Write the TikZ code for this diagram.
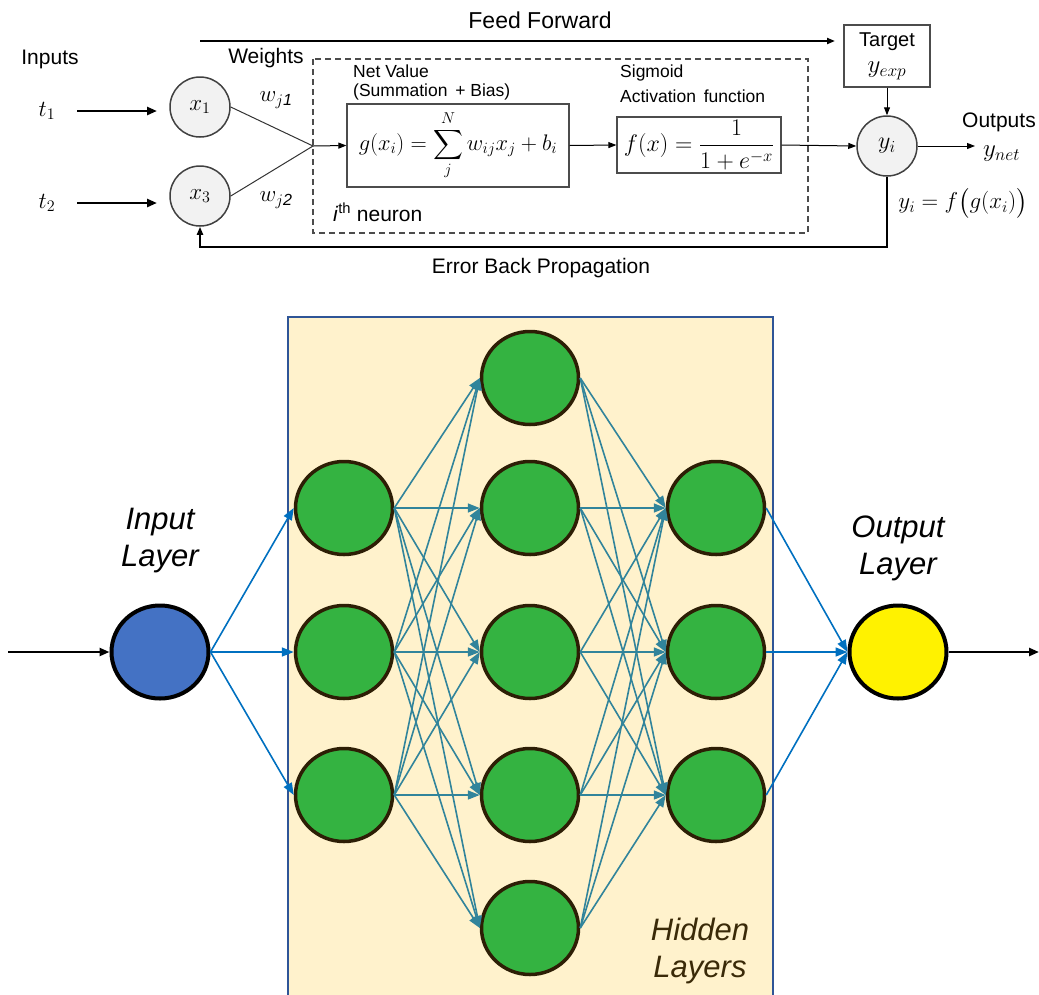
\RequirePackage{fix-cm}
\documentclass[tikz,border=0pt]{standalone}
\usepackage{amsmath}
\usepackage{fontspec}
\setmainfont{Liberation Sans}
\usetikzlibrary{arrows.meta, shapes.geometric, calc}

\definecolor{hidfill}{HTML}{FFF2CC}
\definecolor{hidline}{HTML}{2F5597}
\definecolor{nodegreen}{RGB}{52,179,65}
\definecolor{nodebrown}{RGB}{45,30,5}
\definecolor{inblue}{HTML}{4472C4}
\definecolor{linkblue}{HTML}{0070C0}
\definecolor{linkteal}{HTML}{31849B}
\definecolor{hidtext}{RGB}{58,42,8}
\definecolor{cellgray}{HTML}{F2F2F2}

\begin{document}
\begin{tikzpicture}[x=1pt, y=-1pt,
    neuron/.style={circle, draw=black!75, fill=cellgray, line width=1.5pt, minimum size=60pt, inner sep=0pt, font=\fontsize{23}{26}\selectfont},
    mathbox/.style={draw=black!70, line width=1.2pt, inner sep=0pt, font=\fontsize{22.5}{26}\selectfont},
    lbl/.style={inner sep=0pt, font=\fontsize{21}{25}\selectfont},
    small lbl/.style={inner sep=0pt, anchor=west, font=\fontsize{17.5}{21}\selectfont},
    big lbl/.style={inner sep=0pt, align=center, font=\fontsize{31}{37}\selectfont\itshape},
    thin arrow/.style={-{Triangle[length=8pt,width=6pt]}, line width=1pt},
    bold arrow/.style={-{Triangle[length=10pt,width=8pt]}, line width=2.6pt},
    unit/.style={ellipse, draw=nodebrown, fill=nodegreen, line width=3.5pt, minimum width=97pt, minimum height=93pt},
    blue link/.style={-{Triangle[length=12pt,width=9pt]}, draw=linkblue, fill=linkblue, line width=1.6pt},
    teal link/.style={-{Triangle[length=12pt,width=9pt]}, draw=linkteal, fill=linkteal, line width=1.6pt}]
\useasboundingbox (0,0) rectangle (1039,994);

% single neuron
\node[lbl, font=\fontsize{23}{27}\selectfont] (ff) at (540,20) {Feed Forward};
\node[lbl] (inputs) at (50,59) {Inputs};
\node[lbl] (weights) at (266,58) {Weights};

\node[neuron] (x1) at (200,107) {$x_1$};
\node[neuron] (x3) at (200,196) {$x_3$};
\node[lbl, font=\fontsize{23}{26}\selectfont] (t1) at (47,111) {$t_1$};
\node[lbl, font=\fontsize{23}{26}\selectfont] (t2) at (47,203) {$t_2$};
\draw[bold arrow, shorten <=22pt] (t1.east) -- (t1.east -| 157,0);
\draw[bold arrow, shorten <=22pt] (t2.east) -- (t2.east -| 157,0);

\node[lbl, font=\fontsize{23}{27}\selectfont] (w1) at (276,100) {$w_{j\mathit{1}}$};
\node[lbl, font=\fontsize{23}{27}\selectfont] (w2) at (276,200) {$w_{j\mathit{2}}$};

\draw[black!70, dash pattern=on 6pt off 4pt, line width=1.5pt] (313,59) rectangle (808,233);
\coordinate (sum) at (313,146);
\node[mathbox, minimum width=222pt, minimum height=83pt] (gbox) at (458,145.5)
    {$\displaystyle g(x_i)=\sum_{j}^{N} w_{ij}x_j+b_i$};
\node[mathbox, minimum width=164pt, minimum height=56pt, font=\fontsize{24}{28}\selectfont] (fbox) at (699,145)
    {$\displaystyle f(x)=\frac{1}{1+e^{-x}}$};
\node[neuron, font=\fontsize{24}{28}\selectfont] (yi) at (887,146) {$y_i$};
\node[mathbox, minimum width=86pt, minimum height=62pt, align=center, font=\fontsize{20}{28}\selectfont] (target) at (887,56)
    {Target\\[-2pt]{\fontsize{25}{28}\selectfont$y_{exp}$}};

\node[small lbl] (netval) at (353,71) {Net Value};
\node[small lbl] (summ) at (353,92) {(Summation \,+ Bias)};
\node[small lbl] (sigm) at (620,73) {Sigmoid};
\node[small lbl] (actf) at (620,96) {Activation \,function};
\node[lbl, anchor=west] (ith) at (333,212) {\textit{i}\textsuperscript{th} neuron};

\draw[black!80, line width=1pt] (x1.east) -- (sum);
\draw[black!80, line width=1pt] (x3.east) -- (sum);
\draw[thin arrow] (sum) -- (gbox.west);
\draw[thin arrow] (gbox.east) -- (fbox.west);
\draw[thin arrow] (fbox.east) -- (yi.west);
\draw[thin arrow] (target.south) -- (yi.north);
\coordinate (ffstart) at (200,41);
\coordinate (ffend) at (835,41);
\draw[thin arrow, line width=2pt] (ffstart) -- (ffend);

\node[lbl, anchor=west] (outs) at (962,122) {Outputs};
\node[lbl, anchor=west, font=\fontsize{25}{28}\selectfont] (ynet) at (983,154) {$y_{net}$};
\draw[thin arrow] (yi.east) -- (yi.east -| 975,0);
\node[lbl, font=\fontsize{23}{27}\selectfont] (yfun) at (963,203) {$y_i=f\bigl(g(x_i)\bigr)$};

\coordinate (err) at (540,247);
\draw[thin arrow, line width=2pt] (yi.south) |- (err) -| (x3.south);
\node[lbl] (errlbl) at (541,268) {Error Back Propagation};

% network
\draw[draw=hidline, fill=hidfill, line width=1.5pt] (288,317) rectangle (773,1000);

\node[ellipse, draw=black, fill=inblue, line width=4pt, minimum width=97pt, minimum height=93pt] (in) at (160,652) {};
\node[ellipse, draw=black, fill=yellow, line width=4pt, minimum width=97pt, minimum height=93pt] (out) at (898,652) {};
\foreach \y [count=\i] in {508,652,795}
    \node[unit] (a\i) at (344,\y) {};
\foreach \y [count=\i] in {378,508,652,795,928}
    \node[unit] (b\i) at (530,\y) {};
\foreach \y [count=\i] in {508,652,795}
    \node[unit] (c\i) at (716,\y) {};

\foreach \i in {1,2,3}
    \draw[blue link] (in.east) -- (a\i.west);
\foreach \i in {1,2,3}
    \foreach \j in {1,...,5}
        \draw[teal link] (a\i.east) -- (b\j.west);
\foreach \j in {1,...,5}
    \foreach \k in {1,2,3}
        \draw[teal link] (b\j.east) -- (c\k.west);
\foreach \k in {1,2,3}
    \draw[blue link] (c\k.east) -- (out.west);

\coordinate (src) at (8,652);
\coordinate (sink) at (1039,652);
\draw[bold arrow, line width=2.4pt] (src) -- (in.west);
\draw[bold arrow, line width=2.4pt] (out.east) -- (sink);

\node[big lbl] (inlbl) at (160,541) {Input\\Layer};
\node[big lbl] (outlbl) at (898,548) {Output\\Layer};
\node[big lbl, text=hidtext] (hidlbl) at (700,951) {Hidden\\Layers};
\end{tikzpicture}
\end{document}
